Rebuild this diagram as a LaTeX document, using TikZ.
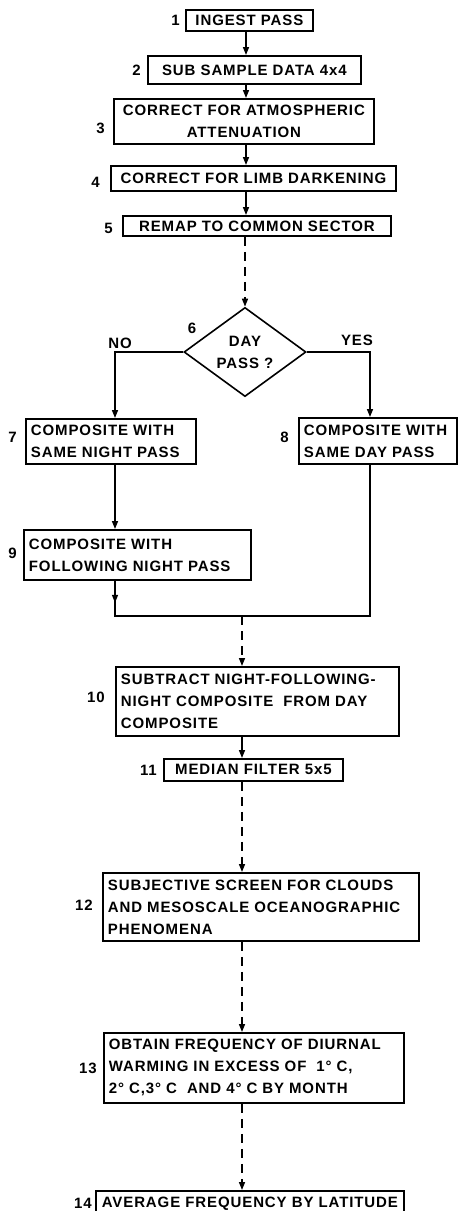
\documentclass[tikz,border=0pt]{standalone}
\usepackage{fontspec}
\setmainfont{Liberation Sans}[LetterSpace=6]
\usetikzlibrary{arrows.meta,shapes.geometric,positioning}

\begin{document}
\begin{tikzpicture}[x=1pt,y=-1pt,
    every node/.style={font=\fontsize{15}{22}\selectfont\bfseries},
    stepbox/.style={draw,line width=1.8pt,anchor=north west,inner xsep=5pt,inner ysep=2pt,align=left},
    onebox/.style={draw,line width=1.8pt,anchor=north west,inner sep=2pt,align=center},
    question/.style={draw,diamond,line width=1.6pt,inner sep=0pt,align=center,minimum width=122pt,minimum height=75pt},
    num/.style={anchor=east,inner sep=0pt},
    flow/.style={line width=1.5pt,-{Triangle[length=8pt,width=6pt]}},
    link/.style={line width=1.5pt},
    gap/.style={dash pattern=on 9pt off 6pt}]
  \useasboundingbox (0,0) rectangle (458,1211);
  \coordinate (ax) at (246,0);
  \coordinate (bx) at (242,0);
  \coordinate (nocorner) at (115,352);
  \coordinate (yescorner) at (370,352);
  \coordinate (join) at (242,616);

  % upper chain
  \node[onebox,minimum width=127pt,minimum height=21pt] (n1) at (185,9) {INGEST PASS};
  \node[onebox,minimum width=213pt,minimum height=28pt] (n2) at (147,55) {SUB SAMPLE DATA 4x4};
  \node[onebox,minimum width=260pt,minimum height=45pt] (n3) at (113,98) {CORRECT FOR ATMOSPHERIC\\ATTENUATION};
  \node[onebox,minimum width=285pt,minimum height=25pt] (n4) at (110,165) {CORRECT FOR LIMB DARKENING};
  \node[onebox,minimum width=268pt,minimum height=20pt] (n5) at (122,215) {REMAP TO COMMON SECTOR};
  \node[question] (n6) at (245,352) {DAY\\PASS ?};

  % the two branches
  \node[stepbox,text width=160pt,minimum height=45pt] (n7) at (25,418) {COMPOSITE WITH\\SAME NIGHT PASS};
  \node[stepbox,text width=148pt,minimum height=46pt] (n8) at (298,417) {COMPOSITE WITH\\SAME DAY PASS};
  \node[stepbox,text width=217pt,minimum height=50pt] (n9) at (23,529) {COMPOSITE WITH\\FOLLOWING NIGHT PASS};

  % lower chain
  \node[stepbox,text width=273pt,minimum height=69pt] (n10) at (115,666) {SUBTRACT NIGHT-FOLLOWING-\\NIGHT COMPOSITE \ FROM DAY\\COMPOSITE};
  \node[onebox,minimum width=179pt,minimum height=22pt] (n11) at (163,758) {MEDIAN FILTER 5x5};
  \node[stepbox,text width=306pt,minimum height=68pt] (n12) at (102,872) {SUBJECTIVE SCREEN FOR CLOUDS\\AND MESOSCALE OCEANOGRAPHIC\\PHENOMENA};
  \node[stepbox,text width=290pt,minimum height=70pt] (n13) at (103,1032) {OBTAIN FREQUENCY OF DIURNAL\\WARMING IN EXCESS OF \ 1° C,\\2° C,3° C \ AND 4° C BY MONTH};
  \node[onebox,minimum width=308pt,minimum height=26pt] (n14) at (95,1190) {AVERAGE FREQUENCY BY LATITUDE};

  % step numbers
  \node[num] (l1) at (180,20) {1};
  \node[num] (l2) at (141,70) {2};
  \node[num] (l3) at (105,128) {3};
  \node[num] (l4) at (100,182) {4};
  \node[num] (l5) at (113,228) {5};
  \node (l6) at (192,328) {6};
  \node[num] (l7) at (17,437) {7};
  \node[num] (l8) at (289,437) {8};
  \node[num] (l9) at (17,553) {9};
  \node[num] (l10) at (105,697) {10};
  \node[num] (l11) at (157,770) {11};
  \node[num] (l12) at (93,905) {12};
  \node[num] (l13) at (97,1068) {13};
  \node[num] (l14) at (92,1203) {14};
  \node (no) at (120,343) {NO};
  \node (yes) at (357,340) {YES};

  \draw[flow] (n1.south -| ax) -- (n2.north -| ax);
  \draw[flow] (n2.south -| ax) -- (n3.north -| ax);
  \draw[flow] (n3.south -| ax) -- (n4.north -| ax);
  \draw[flow] (n4.south -| ax) -- (n5.north -| ax);
  \draw[flow,gap] (n5.south -| n6) -- (n6.north);
  \draw[flow] (n6.west) -- (nocorner) -- (nocorner |- n7.north);
  \draw[flow] (n6.east) -- (yescorner) -- (yescorner |- n8.north);
  \draw[flow] (nocorner |- n7.south) -- (nocorner |- n9.north);
  \draw[flow] (nocorner |- n9.south) -- ++(0,22);
  \draw[link] (nocorner |- n9.south) -- (nocorner |- join) -- (yescorner |- join) -- (yescorner |- n8.south);
  \draw[flow,gap] (join) -- (n10.north -| join);
  \draw[flow] (n10.south -| bx) -- (n11.north -| bx);
  \draw[flow,gap] (n11.south -| bx) -- (n12.north -| bx);
  \draw[flow,gap] (n12.south -| bx) -- (n13.north -| bx);
  \draw[flow,gap] (n13.south -| bx) -- (n14.north -| bx);
\end{tikzpicture}
\end{document}
